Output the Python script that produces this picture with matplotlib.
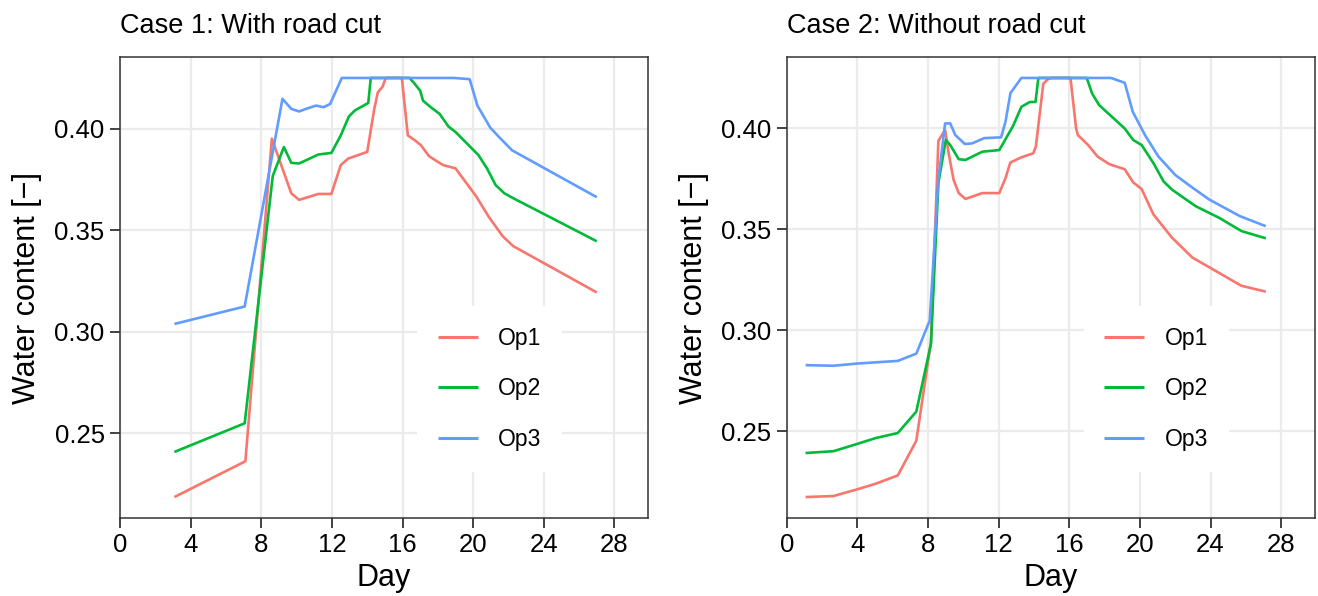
import matplotlib
matplotlib.use("Agg")
import matplotlib.pyplot as plt

plt.rcParams['font.family'] = ['Liberation Sans', 'DejaVu Sans']

series_names = ["Op1", "Op2", "Op3"]
colors = ["#F8766D", "#00BA38", "#619CFF"]

# Case 1: With road cut
c1_op1_day = [3.08, 7.1, 8.6, 9.7, 10.14, 10.64, 11.23, 11.97, 12.5, 12.92, 14.0, 14.4, 14.6, 14.87, 15.05,
              15.96, 16.3, 16.7, 17.04, 17.5, 18.0, 18.3, 19.0, 20.18, 20.87, 21.67, 22.27, 27.0]
c1_op1_val = [0.2187, 0.2363, 0.3951, 0.3682, 0.3650, 0.3663, 0.3679, 0.3679, 0.3821, 0.3853, 0.3886, 0.4098, 0.4179, 0.4207, 0.425,
              0.425, 0.3967, 0.3943, 0.3919, 0.3865, 0.3837, 0.3821, 0.3805, 0.3666, 0.3568, 0.3471, 0.3422, 0.3194]

c1_op2_day = [3.08, 7.06, 8.65, 9.28, 9.7, 10.14, 10.64, 11.23, 11.97, 12.5, 12.96, 13.3, 14.06, 14.2,
              16.4, 16.7, 17.0, 17.16, 17.6, 18.1, 18.6, 19.0, 20.3, 20.78, 21.27, 21.77, 22.27, 27.0]
c1_op2_val = [0.2409, 0.2550, 0.3767, 0.3910, 0.3832, 0.3829, 0.3849, 0.3873, 0.3881, 0.3967, 0.4060, 0.4090, 0.4127, 0.425,
              0.425, 0.4220, 0.4187, 0.4138, 0.4106, 0.4073, 0.4011, 0.3984, 0.3870, 0.3805, 0.3723, 0.3682, 0.3658, 0.3446]

c1_op3_day = [3.08, 7.06, 9.2, 9.7, 10.14, 10.54, 11.1, 11.53, 11.9, 12.56, 18.9, 19.8, 20.24, 20.97, 21.5, 22.2, 27.0]
c1_op3_val = [0.3039, 0.3125, 0.4147, 0.4098, 0.4085, 0.4098, 0.4114, 0.4106, 0.4122, 0.425, 0.425, 0.4244, 0.4114, 0.4005, 0.3956, 0.3894, 0.3663]

# Case 2: Without road cut
c2_op1_day = [1.07, 2.65, 3.99, 5.04, 6.29, 7.34, 8.17, 8.59, 8.97, 9.17, 9.45, 9.74, 10.12, 11.08, 12.04, 12.39, 12.66, 13.29, 13.96, 14.11,
              14.53, 14.82, 15.01, 16.07, 16.39, 16.49, 17.07, 17.6, 18.27, 19.14, 19.62, 20.1, 20.77, 21.82, 22.97, 24.5, 25.75, 27.13]
c2_op1_val = [0.2175, 0.2180, 0.2213, 0.2241, 0.2282, 0.2454, 0.2943, 0.3939, 0.3992, 0.3877, 0.3746, 0.3680, 0.3651, 0.3680, 0.3680, 0.3754, 0.3831, 0.3857, 0.3877, 0.3910,
              0.4221, 0.4246, 0.425, 0.425, 0.4000, 0.3967, 0.3918, 0.3861, 0.3823, 0.3798, 0.3733, 0.3700, 0.3574, 0.3459, 0.3361, 0.3284, 0.3221, 0.3192]

c2_op2_day = [1.07, 2.65, 3.99, 5.04, 6.29, 7.34, 8.17, 8.59, 9.01, 9.26, 9.74, 10.12, 11.08, 12.04, 12.81, 13.29, 13.77, 14.09, 14.25,
              16.99, 17.3, 17.7, 19.14, 19.62, 20.1, 20.77, 21.34, 21.82, 23.16, 24.5, 25.75, 27.13]
c2_op2_val = [0.2393, 0.2402, 0.2438, 0.2467, 0.2492, 0.2598, 0.2934, 0.3730, 0.3943, 0.3918, 0.3848, 0.3844, 0.3885, 0.3893, 0.4011, 0.4107, 0.4131, 0.4131, 0.425,
              0.425, 0.4172, 0.4115, 0.4000, 0.3943, 0.3918, 0.3828, 0.3738, 0.3697, 0.3615, 0.3557, 0.3492, 0.3456]

c2_op3_day = [1.07, 2.65, 3.99, 6.29, 7.34, 8.1, 8.59, 8.97, 9.26, 9.55, 10.09, 10.5, 11.18, 12.14, 12.39, 12.67, 13.29,
              18.37, 19.14, 19.6, 20.29, 21.05, 22.0, 22.88, 23.93, 25.66, 27.13]
c2_op3_val = [0.2828, 0.2825, 0.2836, 0.2849, 0.2885, 0.3049, 0.3746, 0.4025, 0.4025, 0.3967, 0.3923, 0.3926, 0.3952, 0.3956, 0.4033, 0.4175, 0.425,
              0.425, 0.4226, 0.4082, 0.3967, 0.3861, 0.3770, 0.3713, 0.3648, 0.3566, 0.3516]

titles = ["Case 1: With road cut", "Case 2: Without road cut"]
x_ticks = [0, 4, 8, 12, 16, 20, 24, 28]
y_ticks = [0.25, 0.30, 0.35, 0.40]
y_tick_labels = ["0.25", "0.30", "0.35", "0.40"]

panels = [
    [(c1_op1_day, c1_op1_val), (c1_op2_day, c1_op2_val), (c1_op3_day, c1_op3_val)],
    [(c2_op1_day, c2_op1_val), (c2_op2_day, c2_op2_val), (c2_op3_day, c2_op3_val)],
]

W, H = 1318, 596
fig = plt.figure(figsize=(W / 100, H / 100), dpi=100)
axes_px = [(120, 57, 528, 461), (786.7, 57, 528, 461)]

for i, (left, top, w, h) in enumerate(axes_px):
    ax = fig.add_axes([left / W, (H - top - h) / H, w / W, h / H])
    for (d, v), name, col in zip(panels[i], series_names, colors):
        ax.plot(d, v, color=col, lw=1.9, label=name, solid_capstyle='butt')
    ax.set_xlim(0, 29.9)
    ax.margins(y=0.05)
    ax.set_xticks(x_ticks)
    ax.set_yticks(y_ticks)
    ax.set_yticklabels(y_tick_labels)
    ax.grid(True, color="#EBEBEB", lw=1.6)
    ax.set_axisbelow(True)
    for s in ax.spines.values():
        s.set_color("#333333")
        s.set_linewidth(1.1)
    ax.tick_params(axis='both', direction='out', length=7, width=1.3, color="#333333",
                   labelsize=18.5, labelcolor='black')
    ax.tick_params(axis='x', pad=4)
    ax.tick_params(axis='y', pad=4)
    ax.set_xlabel("Day", fontsize=22, labelpad=4)
    ax.set_ylabel("Water content [\u2212]", fontsize=22, labelpad=9)
    ax.set_title(titles[i], loc='left', fontsize=19.5, pad=17)
    leg = ax.legend(loc='center', bbox_to_anchor=(0.70, 0.28), fontsize=16.5,
                    frameon=True, fancybox=False, handlelength=1.75, handletextpad=0.9,
                    labelspacing=1.2, borderpad=0.9)
    leg.get_frame().set_facecolor('white')
    leg.get_frame().set_edgecolor('none')
    leg.get_frame().set_alpha(1)
    for line in leg.get_lines():
        line.set_linewidth(2.2)

fig.savefig("out.png", dpi=100)
